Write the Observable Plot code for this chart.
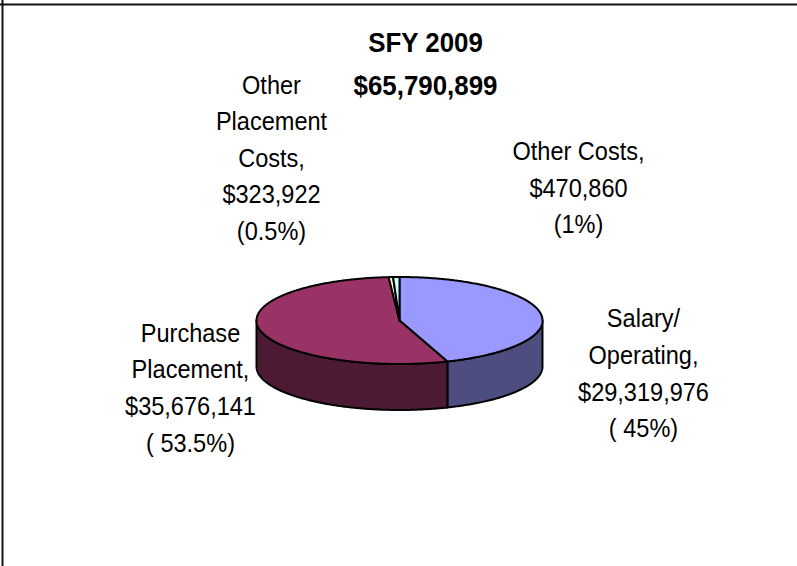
<!DOCTYPE html>
<html>
<head>
<meta charset="utf-8">
<script src="https://cdn.jsdelivr.net/npm/d3@7"></script>
<script src="https://cdn.jsdelivr.net/npm/@observablehq/plot@0.6"></script>
<style>html,body{margin:0;padding:0;background:#fff}svg{display:block}</style>
</head>
<body>
<div id="chart"></div>
<script>
const categories = ["Salary/Operating", "Purchase Placement", "Other Placement Costs", "Other Costs"];
const amounts = [29319976, 35676141, 323922, 470860];
const topColors = ["#9999FF", "#993366", "#FFFFCC", "#CCFFFF"];
const sideColors = ["#4D4D80", "#4D1A33", "#808066", "#668080"];
const titleLines = ["SFY 2009", "$65,790,899"];
const labelTexts = [
  "Salary/\nOperating,\n$29,319,976\n( 45%)",
  "Purchase\nPlacement,\n$35,676,141\n( 53.5%)",
  "Other\nPlacement\nCosts,\n$323,922\n(0.5%)",
  "Other Costs,\n$470,860\n(1%)"
];
const labelX = [643, 190, 271, 578];
const labelY = [370, 384.5, 154.5, 184.5];

// pie geometry
const cx = 399, cy = 320, rx = 143, ry = 43.5, depth = 46;
const arcs = d3.pie().sort(null).value(d => d)(amounts);
const px = a => cx + rx * Math.sin(a);
const py = a => cy - ry * Math.cos(a);
function arcPoints(a0, a1) {
  const n = Math.max(2, Math.ceil((a1 - a0) / 0.01));
  return d3.range(n + 1).map(i => a0 + (a1 - a0) * i / n);
}
const tops = [], sides = [];
arcs.forEach((s, k) => {
  tops.push({cat: categories[k], x: cx, y: cy});
  arcPoints(s.startAngle, s.endAngle).forEach(a => tops.push({cat: categories[k], x: px(a), y: py(a)}));
  const a0 = Math.max(s.startAngle, Math.PI / 2), a1 = Math.min(s.endAngle, 3 * Math.PI / 2);
  if (a1 > a0) {
    const pts = arcPoints(a0, a1);
    pts.forEach(a => sides.push({cat: categories[k], x: px(a), y: py(a)}));
    pts.slice().reverse().forEach(a => sides.push({cat: categories[k], x: px(a), y: py(a) + depth}));
  }
});
const lineOpts = {x: "x", y: "y", z: "cat", stroke: "#000", strokeWidth: 2, curve: "linear-closed", strokeLinejoin: "round"};

// narrow the glyphs a little around each text's anchor, as in the reference
const squeeze = k => (index, scales, values, dims, ctx, next) => {
  const g = next(index, scales, values, dims, ctx);
  g.querySelectorAll("text").forEach(t =>
    t.setAttribute("transform", (t.getAttribute("transform") || "") + ` scale(${k},1)`));
  return g;
};

const plot = Plot.plot({
  width: 797, height: 566, margin: 0,
  x: {domain: [0, 797], range: [0, 797], axis: null},
  y: {domain: [0, 566], range: [0, 566], axis: null},
  style: {background: "#fff"},
  marks: [
    Plot.ruleX([2], {stroke: "#111", strokeWidth: 2}),
    Plot.ruleY([4], {stroke: "#111", strokeWidth: 2}),
    Plot.line(sides, {...lineOpts, fill: d => sideColors[categories.indexOf(d.cat)]}),
    Plot.line(tops, {...lineOpts, fill: d => topColors[categories.indexOf(d.cat)]}),
    Plot.text(labelTexts, {
      x: (d, i) => labelX[i], y: (d, i) => labelY[i], text: d => d,
      fontFamily: "Liberation Sans", fontSize: 25.2, lineHeight: 36.6 / 25.2, fill: "#000", textAnchor: "middle",
      render: squeeze(0.935)
    }),
    Plot.text(titleLines, {
      x: () => 425, y: (d, i) => [43, 86][i], text: d => d,
      fontFamily: "Liberation Sans", fontSize: 28, fontWeight: "bold", fill: "#000", textAnchor: "middle",
      render: squeeze(0.925)
    })
  ]
});
document.getElementById("chart").append(plot);
</script>
</body>
</html>
